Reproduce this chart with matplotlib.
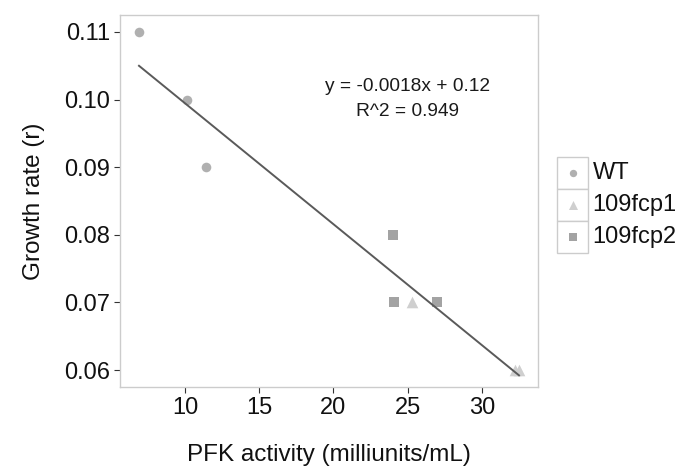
import numpy as np
import matplotlib
matplotlib.use("Agg")
from matplotlib import pyplot as plt
from matplotlib.patches import Rectangle

plt.rcParams['font.family'] = ['Liberation Sans', 'DejaVu Sans']

# data
wt_x = [6.9, 10.1, 11.4]
wt_y = [0.11, 0.10, 0.09]
fcp1_x = [25.3, 32.2, 32.5]
fcp1_y = [0.07, 0.06, 0.06]
fcp2_x = [24.0, 24.1, 27.0]
fcp2_y = [0.08, 0.07, 0.07]

groups = ['WT', '109fcp1', '109fcp2']
markers = ['o', '^', 's']
sizes = [48, 70, 52]
colors = ['#b0b0b0', '#cfcfcf', '#a3a3a3']

eq_text = "y = -0.0018x + 0.12"
r2_text = "R^2 = 0.949"

all_x = np.array(wt_x + fcp1_x + fcp2_x)
all_y = np.array(wt_y + fcp1_y + fcp2_y)

fig = plt.figure(figsize=(6.81, 4.70), dpi=100)
ax = fig.add_axes([120 / 681, 1 - 387 / 470, 418 / 681, 372 / 470])

series = [(wt_x, wt_y), (fcp1_x, fcp1_y), (fcp2_x, fcp2_y)]
for (xs, ys), m, s, c in zip(series, markers, sizes, colors):
    ax.scatter(xs, ys, marker=m, s=s, color=c, linewidths=0, zorder=3)

# linear fit line
slope, icpt = np.polyfit(all_x, all_y, 1)
fx = np.array([all_x.min(), all_x.max()])
ax.plot(fx, slope * fx + icpt, color='#5a5a5a', lw=1.4, zorder=4)

ax.text(25.0, 0.1020, eq_text, ha='center', va='center', fontsize=13.8, color='#1a1a1a')
ax.text(25.0, 0.0983, r2_text, ha='center', va='center', fontsize=13.8, color='#1a1a1a')

# ggplot-like 5% expansion
xr = all_x.max() - all_x.min()
yr = all_y.max() - all_y.min()
ax.set_xlim(all_x.min() - 0.05 * xr, all_x.max() + 0.05 * xr)
ax.set_ylim(all_y.min() - 0.05 * yr, all_y.max() + 0.05 * yr)

ax.set_xticks([10, 15, 20, 25, 30])
ax.set_yticks([0.06, 0.07, 0.08, 0.09, 0.10, 0.11])
ax.set_yticklabels(['0.06', '0.07', '0.08', '0.09', '0.10', '0.11'])
ax.tick_params(axis='both', labelsize=17, colors='#333333', labelcolor='#111111',
               length=4, width=0.8, pad=3)
for sp in ax.spines.values():
    sp.set_color('#cccccc')
    sp.set_linewidth(1.0)

ax.set_xlabel('PFK activity (milliunits/mL)', fontsize=17.5, labelpad=18, color='#111111')
ax.set_ylabel('Growth rate (r)', fontsize=17.5, labelpad=14, color='#111111')

# legend with boxed keys
lax = fig.add_axes([557 / 681, 1 - 253 / 470, 31 / 681, 96 / 470])
lax.set_xlim(0, 1)
lax.set_ylim(0, 3)
lax.axis('off')
for i, (g, m, c) in enumerate(zip(groups, markers, colors)):
    yy = 2 - i
    lax.add_patch(Rectangle((0, yy), 1, 1, facecolor='white', edgecolor='#cccccc', lw=1.0,
                            clip_on=False))
    lax.scatter([0.5], [yy + 0.5], marker=m, s=[28, 42, 30][i], color=c, linewidths=0, zorder=3)
    lax.text(1.15, yy + 0.5, g, ha='left', va='center', fontsize=17, color='#111111')

fig.savefig('out.png', dpi=100)
